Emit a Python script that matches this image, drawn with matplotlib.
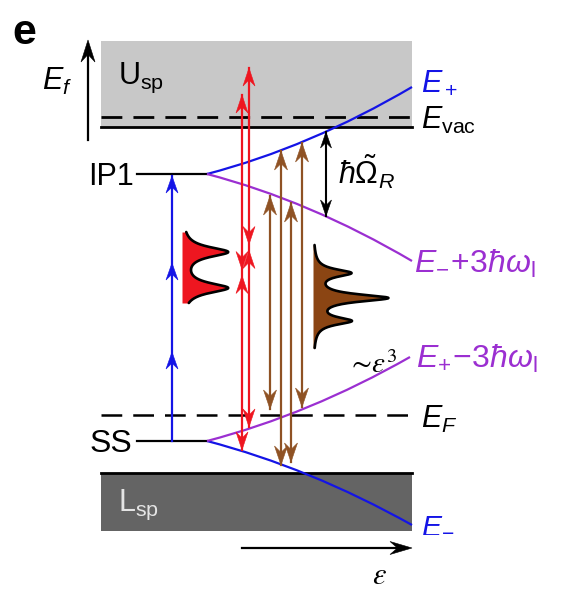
import numpy as np
import matplotlib
matplotlib.use("Agg")
import matplotlib.pyplot as plt
from matplotlib.patches import Rectangle, Polygon, PathPatch
from matplotlib.path import Path

plt.rcParams["font.family"] = ["Liberation Sans", "DejaVu Sans"]
plt.rcParams["mathtext.fontset"] = "custom"
plt.rcParams["mathtext.rm"] = "Liberation Sans"
plt.rcParams["mathtext.it"] = "Liberation Sans:italic"
plt.rcParams["mathtext.bf"] = "Liberation Sans:bold"
plt.rcParams["mathtext.sf"] = "Liberation Sans"

# ---- colours ----
BLUE = "#1414e6"
PURPLE = "#9b2fd1"
RED = "#ee1620"
BROWN = "#8f5224"
BROWN_FILL = "#8b4513"
LIGHT_BAND = "#c8c8c8"
DARK_BAND = "#646464"

# ---- energy levels (vertical coordinate, drawing units, downward) ----
BAND_LEFT, BAND_RIGHT = 101, 412
USP_TOP = 41
E_VAC = 127
E_VAC_DASH = 117
IP1 = 174
SS = 441
E_FERMI = 415
LSP_TOP, LSP_BOTTOM = 473, 531
LEVEL_LEFT, LEVEL_RIGHT = 137, 207

# ---- dressed-state branches: start, control, end (epsilon, energy) ----
branch_E_plus = [(207, 174), (309.5, 147.3), (412, 87)]
branch_E_minus_up = [(207, 174), (309.5, 200.7), (412, 261)]
branch_E_plus_down = [(207, 441), (309.5, 414.3), (410, 357)]
branch_E_minus = [(207, 441), (309.5, 467.7), (412, 525)]

# ---- optical transitions ----
pump_x = 172
pump_heads = [352, 263, 176]

red_x = [242, 249]
red_top = [95, 68]
red_bottom = [450, 427]

brown_x = [270, 281, 291, 302]
brown_top = [196, 151, 203, 143]
brown_bottom = [409, 465, 462, 407]

rabi_x = 326
rabi_top, rabi_bottom = 132, 216

# ---- spectra (peak centres, heights, width) ----
red_spec_base = 182
red_spec_range = (232, 303)
red_peaks = [252, 288]
red_heights = [45, 45]
red_width = 6.0

brown_spec_base = 313
brown_spec_range = (245, 348)
brown_peaks = [273, 298, 321]
brown_heights = [36, 73, 36]
brown_width = 4.5

fig = plt.figure(figsize=(5.61, 5.92), dpi=100)
ax = fig.add_axes([0, 0, 1, 1])
ax.set_xlim(0, 561)
ax.set_ylim(592, 0)
ax.axis("off")


def head(x, y, dx, dy, length, width, color):
    px, py = -dy, dx
    bx, by = x - dx * length, y - dy * length
    nx, ny = x - dx * length * 0.66, y - dy * length * 0.66
    pts = [(x, y), (bx + px * width / 2, by + py * width / 2), (nx, ny),
           (bx - px * width / 2, by - py * width / 2)]
    ax.add_patch(Polygon(pts, closed=True, fc=color, ec=color, lw=0.4, zorder=6))


def branch(pts, color):
    path = Path(pts, [Path.MOVETO, Path.CURVE3, Path.CURVE3])
    ax.add_patch(PathPatch(path, fc="none", ec=color, lw=1.6, zorder=4))


# bands
ax.add_patch(Rectangle((BAND_LEFT, USP_TOP), BAND_RIGHT - BAND_LEFT, E_VAC - USP_TOP,
                       fc=LIGHT_BAND, ec="none", zorder=1))
ax.add_patch(Rectangle((BAND_LEFT, LSP_TOP), BAND_RIGHT - BAND_LEFT, LSP_BOTTOM - LSP_TOP,
                       fc=DARK_BAND, ec="none", zorder=1))
ax.plot([BAND_LEFT, BAND_RIGHT], [E_VAC, E_VAC], color="k", lw=2.0, zorder=2)
ax.plot([BAND_LEFT, BAND_RIGHT], [E_VAC_DASH, E_VAC_DASH], color="k", lw=2.0,
        dashes=(7.5, 4.0), zorder=2)
ax.plot([BAND_LEFT, BAND_RIGHT], [E_FERMI, E_FERMI], color="k", lw=1.8,
        dashes=(8.3, 4.4), zorder=2)
ax.plot([BAND_LEFT, BAND_RIGHT], [LSP_TOP, LSP_TOP], color="k", lw=2.0, zorder=2)

# discrete levels
ax.plot([LEVEL_LEFT, LEVEL_RIGHT], [IP1, IP1], color="k", lw=1.6, zorder=3)
ax.plot([LEVEL_LEFT, LEVEL_RIGHT], [SS, SS], color="k", lw=1.6, zorder=3)

# branches
branch(branch_E_plus, BLUE)
branch(branch_E_minus, BLUE)
branch(branch_E_minus_up, PURPLE)
branch(branch_E_plus_down, PURPLE)

# pump: three photon steps SS -> IP1
ax.plot([pump_x, pump_x], [SS, min(pump_heads)], color=BLUE, lw=1.6, zorder=5)
for yh in pump_heads:
    head(pump_x, yh, 0, -1, 17, 12, BLUE)

# red transitions
for x, t, b in zip(red_x, red_top, red_bottom):
    ax.plot([x, x], [t, b], color=RED, lw=1.6, zorder=5)
    mid = 0.5 * (t + b)
    head(x, t, 0, -1, 18, 12, RED)
    head(x, b, 0, 1, 18, 12, RED)
    head(x, mid - 3, 0, 1, 18, 12, RED)
    head(x, mid + 3, 0, -1, 18, 12, RED)

# brown transitions
for x, t, b in zip(brown_x, brown_top, brown_bottom):
    ax.plot([x, x], [t, b], color=BROWN, lw=1.6, zorder=5)
    head(x, t, 0, -1, 19, 13, BROWN)
    head(x, b, 0, 1, 19, 13, BROWN)

# Rabi splitting
ax.plot([rabi_x, rabi_x], [rabi_top, rabi_bottom], color="k", lw=1.5, zorder=5)
head(rabi_x, rabi_top, 0, -1, 16, 11, "k")
head(rabi_x, rabi_bottom, 0, 1, 16, 11, "k")


def spectrum(base, yrange, peaks, heights, width, fill):
    y = np.linspace(yrange[0], yrange[1], 400)
    x = np.full_like(y, float(base))
    for p, h in zip(peaks, heights):
        x += h / (1 + ((y - p) / width) ** 2)
    ax.fill_betweenx(y, base, x, color=fill, lw=0, zorder=6)
    ax.plot(x, y, color="k", lw=1.9, zorder=7, solid_capstyle="round")


spectrum(red_spec_base, red_spec_range, red_peaks, red_heights, red_width, RED)
spectrum(brown_spec_base, brown_spec_range, brown_peaks, brown_heights, brown_width,
         BROWN_FILL)

# axes arrows
ax.plot([88, 88], [140, 50], color="k", lw=1.6)
head(88, 40, 0, -1, 22, 14, "k")
ax.plot([242, 402], [548, 548], color="k", lw=1.6)
head(412, 548, 1, 0, 22, 13, "k")

# labels
ax.text(12, 44, "e", fontsize=31, fontweight="bold", va="baseline")
ax.text(42, 90, r"$E_f$", fontsize=22, va="baseline")
ax.text(118, 84, r"$\mathrm{U}_{\mathrm{sp}}$", fontsize=22, va="baseline")
ax.text(134, 185, "IP1", fontsize=22, ha="right", va="baseline")
ax.text(132, 452, "SS", fontsize=23, ha="right", va="baseline")
ax.text(118, 511, r"$\mathrm{L}_{\mathrm{sp}}$", fontsize=22, va="baseline",
        color="#e4e4e4")
ax.text(421, 91, r"$E_+$", fontsize=22, va="baseline", color=BLUE)
ax.text(421, 129, r"$E_{\mathrm{vac}}$", fontsize=22, va="baseline")
ax.text(338, 184, r"$\hbar\tilde{\Omega}_R$", fontsize=22, va="baseline")
ax.text(414, 273, r"$E_{-}\!+\!3\hbar\omega_{\mathrm{l}}$", fontsize=23,
        va="baseline", color=PURPLE)
ax.text(416, 368, r"$E_{+}\!-\!3\hbar\omega_{\mathrm{l}}$", fontsize=23,
        va="baseline", color=PURPLE)
ax.text(347, 373, r"$\sim\!\varepsilon^3$", fontsize=21, va="baseline",
        math_fontfamily="stix")
ax.text(421, 428, r"$E_F$", fontsize=22, va="baseline")
ax.text(421, 532.4, r"$E_{-}$", fontsize=21.6, va="baseline", color=BLUE)
ax.text(379, 584, r"$\varepsilon$", fontsize=22, ha="center", va="baseline",
        math_fontfamily="stix")

fig.savefig("out.png", dpi=100, facecolor="white")
